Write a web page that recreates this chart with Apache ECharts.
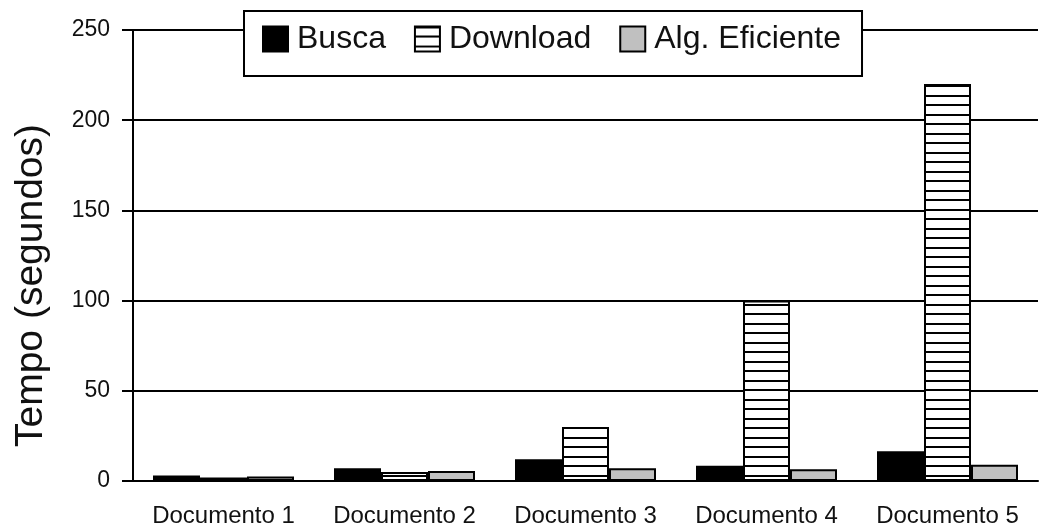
<!DOCTYPE html>
<html>
<head>
<meta charset="utf-8">
<script src="https://cdn.jsdelivr.net/npm/echarts@6/dist/echarts.min.js"></script>
<style>
html,body{margin:0;padding:0;background:#fff;}
#chart{width:1043px;height:529px;}
</style>
</head>
<body>
<div id="chart"></div>
<script>
const categories = ['Documento 1', 'Documento 2', 'Documento 3', 'Documento 4', 'Documento 5'];
const seriesNames = ['Busca', 'Download', 'Alg. Eficiente'];
const busca = [3, 7, 12, 8.5, 16.5];
const download = [2, 5, 30, 100, 220];
const algEficiente = [2.5, 5.5, 7, 6.5, 9];
const yTicks = [0, 50, 100, 150, 200, 250];

// horizontal hatch pattern (white with black lines)
const pc = document.createElement('canvas');
pc.width = 10; pc.height = 19;
const g = pc.getContext('2d');
g.fillStyle = '#fff'; g.fillRect(0, 0, 10, 19);
g.fillStyle = '#000';
g.fillRect(0, 0, 10, 2);
g.fillRect(0, 9, 10, 2);
const hatch = { image: pc, repeat: 'repeat' };

const font = '"Liberation Sans", Arial, sans-serif';
const chart = echarts.init(document.getElementById('chart'), null, { renderer: 'canvas' });

const barCommon = { type: 'bar', barWidth: 47, barGap: '0%' };

chart.setOption({
  animation: false,
  backgroundColor: '#fff',
  textStyle: { fontFamily: font },
  grid: { left: 133, right: 5, top: 30, bottom: 48, containLabel: false, outerBoundsMode: 'none' },
  legend: {
    left: 244, top: 11,
    data: seriesNames,
    icon: 'rect',
    itemWidth: 25, itemHeight: 25, itemGap: 28,
    padding: [12, 21, 21, 18],
    backgroundColor: '#fff',
    borderColor: '#000', borderWidth: 2,
    textStyle: { fontSize: 32, color: '#111', fontFamily: font, padding: [0, 0, 0, 4] },
    selectedMode: false
  },
  xAxis: {
    type: 'category',
    data: categories,
    axisLine: { lineStyle: { color: '#000', width: 2 } },
    axisTick: { alignWithLabel: true, length: 13, lineStyle: { color: '#000', width: 2 } },
    axisLabel: { interval: 0, fontSize: 24, color: '#111', margin: 23, fontFamily: font, hideOverlap: false }
  },
  yAxis: {
    type: 'value',
    min: yTicks[0], max: yTicks[yTicks.length - 1], interval: 50,
    name: 'Tempo (segundos)',
    nameLocation: 'middle',
    nameGap: 82,
    nameTextStyle: { fontSize: 39, color: '#111', fontFamily: font, padding: [0, 60, 0, 0] },
    axisLine: { show: true, lineStyle: { color: '#000', width: 2 } },
    axisTick: { show: true, length: 11, lineStyle: { color: '#000', width: 2 } },
    axisLabel: { fontSize: 23, color: '#111', margin: 23, fontFamily: font },
    splitLine: { show: true, lineStyle: { color: '#000', width: 2 } }
  },
  series: [
    Object.assign({ name: seriesNames[0], data: busca,
      itemStyle: { color: '#000', borderColor: '#000', borderWidth: 2 } }, barCommon),
    Object.assign({ name: seriesNames[1], data: download,
      itemStyle: { color: hatch, borderColor: '#000', borderWidth: 2 } }, barCommon),
    Object.assign({ name: seriesNames[2], data: algEficiente,
      itemStyle: { color: '#c0c0c0', borderColor: '#000', borderWidth: 2 } }, barCommon)
  ]
});
</script>
</body>
</html>
